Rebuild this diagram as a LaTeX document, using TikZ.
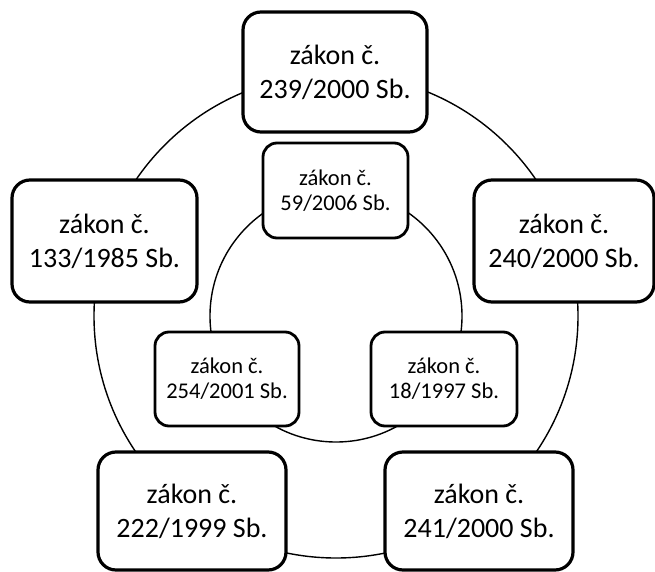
\documentclass[tikz,border=0pt]{standalone}
\usepackage{fontspec}
\setmainfont{Carlito}
\begin{document}
\begin{tikzpicture}[x=1pt,y=-1pt,
  ring/.style={draw=black,line width=1.4pt},
  bigbox/.style={draw=black,fill=white,line width=3.2pt,rounded corners=18pt,
    align=center,inner sep=0pt,font=\fontsize{28}{34}\selectfont},
  smallbox/.style={draw=black,fill=white,line width=2.8pt,rounded corners=14pt,
    align=center,inner sep=0pt,font=\fontsize{22.5}{25}\selectfont}]
\useasboundingbox (0,0) rectangle (655,572);
\coordinate (c) at (336,316);
\draw[ring] (c) circle[radius=242pt];
\draw[ring] (c) circle[radius=126pt];
% outer boxes
\node[bigbox,minimum width=184pt,minimum height=120pt] (o1) at (335,72) {zákon č.\\239/2000 Sb.};
\node[bigbox,minimum width=180pt,minimum height=122pt] (o2) at (564,241) {zákon č.\\240/2000 Sb.};
\node[bigbox,minimum width=188pt,minimum height=118pt] (o3) at (479,511) {zákon č.\\241/2000 Sb.};
\node[bigbox,minimum width=188pt,minimum height=118pt] (o4) at (192,511) {zákon č.\\222/1999 Sb.};
\node[bigbox,minimum width=185pt,minimum height=122pt] (o5) at (104.5,241) {zákon č.\\133/1985 Sb.};
% inner boxes
\node[smallbox,minimum width=145pt,minimum height=95pt] (i1) at (335.5,190.5) {zákon č.\\59/2006 Sb.};
\node[smallbox,minimum width=146pt,minimum height=94pt] (i2) at (444,379) {zákon č.\\18/1997 Sb.};
\node[smallbox,minimum width=144pt,minimum height=94pt] (i3) at (227,379) {zákon č.\\254/2001 Sb.};
\end{tikzpicture}
\end{document}
